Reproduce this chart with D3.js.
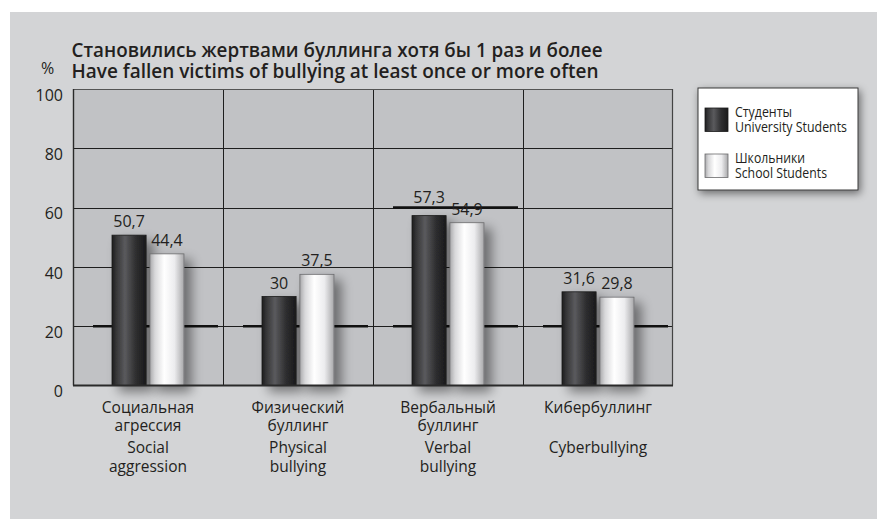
<!DOCTYPE html>
<html>
<head>
<meta charset="utf-8">
<script src="https://cdn.jsdelivr.net/npm/d3@7/dist/d3.min.js"></script>
<style>
  html, body { margin: 0; padding: 0; background: #ffffff; }
  svg { display: block; }
  text { font-family: "Open Sans", "Noto Sans", sans-serif; fill: #231f20; }
</style>
</head>
<body>
<svg id="chart" width="877" height="519"></svg>
<script>
// ---------- data ----------
const categoriesRu = [["Социальная", "агрессия"], ["Физический", "буллинг"], ["Вербальный", "буллинг"], ["Кибербуллинг"]];
const categoriesEn = [["Social", "aggression"], ["Physical", "bullying"], ["Verbal", "bullying"], ["Cyberbullying"]];
const seriesNames = ["University", "School"];
const legendRu = ["Студенты", "Школьники"];
const legendEn = ["University Students", "School Students"];
const universityValues = [50.7, 30, 57.3, 31.6];
const schoolValues = [44.4, 37.5, 54.9, 29.8];
const valueLabels = [["50,7", "30", "57,3", "31,6"], ["44,4", "37,5", "54,9", "29,8"]];
const yTicks = [0, 20, 40, 60, 80, 100];
const accentLines = [[0, 20], [1, 20], [2, 20], [3, 20], [2, 60]];
const titleLines = ["Становились жертвами буллинга хотя бы 1 раз и более", "Have fallen victims of bullying at least once or more often"];

// ---------- layout ----------
const svg = d3.select("#chart");
const plot = { left: 73, right: 673, top: 89, bottom: 385.5 };

const defs = svg.append("defs");
const gDark = defs.append("linearGradient").attr("id", "gDark").attr("x1", 0).attr("x2", 1).attr("y1", 0).attr("y2", 0);
[[0, "#1c1c1d"], [0.12, "#353537"], [0.38, "#5a5a5d"], [0.7, "#2e2e30"], [1, "#1a1a1b"]]
  .forEach(([o, c]) => gDark.append("stop").attr("offset", o).attr("stop-color", c));
const gLight = defs.append("linearGradient").attr("id", "gLight").attr("x1", 0).attr("x2", 1).attr("y1", 0).attr("y2", 0);
[[0, "#a9a9ab"], [0.15, "#d8d8da"], [0.42, "#ffffff"], [0.72, "#ececee"], [1, "#a8a8aa"]]
  .forEach(([o, c]) => gLight.append("stop").attr("offset", o).attr("stop-color", c));

const shadow = defs.append("filter").attr("id", "shadow").attr("x", "-50%").attr("y", "-20%").attr("width", "220%").attr("height", "150%");
shadow.append("feGaussianBlur").attr("in", "SourceAlpha").attr("stdDeviation", 6).attr("result", "b");
shadow.append("feOffset").attr("in", "b").attr("dx", 7).attr("dy", 6).attr("result", "o");
shadow.append("feComponentTransfer").attr("in", "o").attr("result", "s")
  .append("feFuncA").attr("type", "linear").attr("slope", 0.45);
const m = shadow.append("feMerge");
m.append("feMergeNode").attr("in", "s");
m.append("feMergeNode").attr("in", "SourceGraphic");

const legShadow = defs.append("filter").attr("id", "legShadow").attr("x", "-20%").attr("y", "-20%").attr("width", "140%").attr("height", "150%");
legShadow.append("feGaussianBlur").attr("in", "SourceAlpha").attr("stdDeviation", 4).attr("result", "b");
legShadow.append("feOffset").attr("in", "b").attr("dx", 2).attr("dy", 3).attr("result", "o");
legShadow.append("feComponentTransfer").attr("in", "o").attr("result", "s")
  .append("feFuncA").attr("type", "linear").attr("slope", 0.5);
const m2 = legShadow.append("feMerge");
m2.append("feMergeNode").attr("in", "s");
m2.append("feMergeNode").attr("in", "SourceGraphic");

// panel background
svg.append("rect").attr("x", 10).attr("y", 12).attr("width", 877 - 10).attr("height", 519 - 12).attr("fill", "#d3d4d6");

// scales
const idx = d3.range(categoriesEn.length);
const x = d3.scaleBand().domain(idx).range([plot.left, plot.right]).padding(0);
const xSub = d3.scaleBand().domain(seriesNames).range([39, 111]).paddingInner(0.1);
const y = d3.scaleLinear().domain([0, 100]).range([plot.bottom, plot.top]);

// plot area
svg.append("rect").attr("x", plot.left).attr("y", plot.top)
  .attr("width", plot.right - plot.left).attr("height", plot.bottom - plot.top).attr("fill", "#c1c2c5");

// horizontal gridlines
svg.append("g").selectAll("line").data(yTicks.filter(t => t > 0 && t < 100)).join("line")
  .attr("x1", plot.left).attr("x2", plot.right)
  .attr("y1", d => Math.round(y(d)) + 0.5).attr("y2", d => Math.round(y(d)) + 0.5)
  .attr("stroke", "#1e1e1e").attr("stroke-width", 1);

// vertical separators
svg.append("g").selectAll("line").data(idx.slice(1)).join("line")
  .attr("x1", d => Math.round(x(d)) + 0.5).attr("x2", d => Math.round(x(d)) + 0.5)
  .attr("y1", plot.top).attr("y2", plot.bottom)
  .attr("stroke", "#1e1e1e").attr("stroke-width", 1);

// accent (thick) segments
svg.append("g").selectAll("line").data(accentLines).join("line")
  .attr("x1", d => x(d[0]) + 20).attr("x2", d => x(d[0]) + x.bandwidth() - 5)
  .attr("y1", d => y(d[1])).attr("y2", d => y(d[1]))
  .attr("stroke", "#111").attr("stroke-width", 2.5);

// plot border
svg.append("line").attr("x1", plot.left).attr("x2", plot.right).attr("y1", plot.top + 0.5).attr("y2", plot.top + 0.5)
  .attr("stroke", "#555").attr("stroke-width", 1);
svg.append("line").attr("x1", plot.right - 0.5).attr("x2", plot.right - 0.5).attr("y1", plot.top).attr("y2", plot.bottom)
  .attr("stroke", "#444").attr("stroke-width", 1.2);

// bars
const seriesData = [universityValues, schoolValues];
const fills = ["url(#gDark)", "url(#gLight)"];
const strokes = ["#1a1a1a", "#6a6a6c"];
seriesData.forEach((vals, s) => {
  svg.append("g").attr("filter", "url(#shadow)").selectAll("rect").data(vals).join("rect")
    .attr("x", (d, i) => x(i) + xSub(seriesNames[s]))
    .attr("width", xSub.bandwidth())
    .attr("y", d => y(d))
    .attr("height", d => y(0) - y(d))
    .attr("fill", fills[s])
    .attr("stroke", strokes[s]).attr("stroke-width", 0.8);
});

// baseline & left axis
svg.append("line").attr("x1", plot.left).attr("x2", plot.right).attr("y1", plot.bottom).attr("y2", plot.bottom)
  .attr("stroke", "#2a2a2a").attr("stroke-width", 1.8);
svg.append("line").attr("x1", plot.left + 0.5).attr("x2", plot.left + 0.5).attr("y1", plot.top).attr("y2", plot.bottom)
  .attr("stroke", "#2a2a2a").attr("stroke-width", 1.4);

// value labels (lifted clear of an accent line sitting just under the text baseline)
function labelY(v, i) {
  let b = y(v) - 8;
  accentLines.filter(a => a[0] === i).forEach(a => {
    const ly = y(a[1]);
    if (b >= ly - 2 && b <= ly + 4) b = ly - 5;
  });
  return b;
}
seriesData.forEach((vals, s) => {
  svg.append("g").selectAll("text").data(vals).join("text")
    .attr("x", (d, i) => x(i) + xSub(seriesNames[s]) + xSub.bandwidth() / 2)
    .attr("y", (d, i) => labelY(d, i))
    .attr("text-anchor", "middle")
    .attr("font-size", 16)
    .text((d, i) => valueLabels[s][i]);
});

// y tick labels
const yAxis = d3.axisLeft(y).tickValues(yTicks).tickSize(0).tickPadding(0).tickFormat(d3.format("d"));
const ya = svg.append("g").attr("transform", `translate(63,6)`).call(yAxis);
ya.select(".domain").remove();
ya.selectAll("text").attr("font-size", 16).attr("fill", "#231f20")
  .attr("font-family", "'Open Sans', sans-serif");

// "%" label
svg.append("text").attr("x", 47.5).attr("y", 74).attr("text-anchor", "middle").attr("font-size", 16).text("%");

// title
const titleWidths = [531, 527];
const titleBase = [56.5, 78];
titleLines.forEach((t, i) => {
  svg.append("text").attr("x", 71.5).attr("y", titleBase[i])
    .attr("font-size", 20).attr("font-weight", 600)
    .attr("textLength", titleWidths[i]).attr("lengthAdjust", "spacingAndGlyphs")
    .text(t);
});

// category labels
const ruBase = [413, 430.5];
const enBase = [453, 472];
idx.forEach(i => {
  const cx = x(i) + x.bandwidth() / 2;
  categoriesRu[i].forEach((line, j) => {
    svg.append("text").attr("x", cx).attr("y", ruBase[j]).attr("text-anchor", "middle")
      .attr("font-size", 15.5).text(line);
  });
  categoriesEn[i].forEach((line, j) => {
    svg.append("text").attr("x", cx).attr("y", enBase[j]).attr("text-anchor", "middle")
      .attr("font-size", 15.5).text(line);
  });
});

// legend
const lg = svg.append("g");
lg.append("rect").attr("x", 698).attr("y", 88).attr("width", 160).attr("height", 102)
  .attr("fill", "#ffffff").attr("stroke", "#3a3a3a").attr("stroke-width", 1).attr("filter", "url(#legShadow)");
const swY = [108, 154];
const ruW = [57, 70];
const enW = [112, 92];
seriesNames.forEach((s, i) => {
  lg.append("rect").attr("x", 705).attr("y", swY[i]).attr("width", 23).attr("height", 23.5)
    .attr("fill", fills[i]).attr("stroke", strokes[i]).attr("stroke-width", 0.8);
  lg.append("text").attr("x", 735).attr("y", swY[i] + 8.5).attr("font-size", 15)
    .attr("textLength", ruW[i]).attr("lengthAdjust", "spacingAndGlyphs").text(legendRu[i]);
  lg.append("text").attr("x", 735).attr("y", swY[i] + 24).attr("font-size", 15)
    .attr("textLength", enW[i]).attr("lengthAdjust", "spacingAndGlyphs").text(legendEn[i]);
});
</script>
</body>
</html>
